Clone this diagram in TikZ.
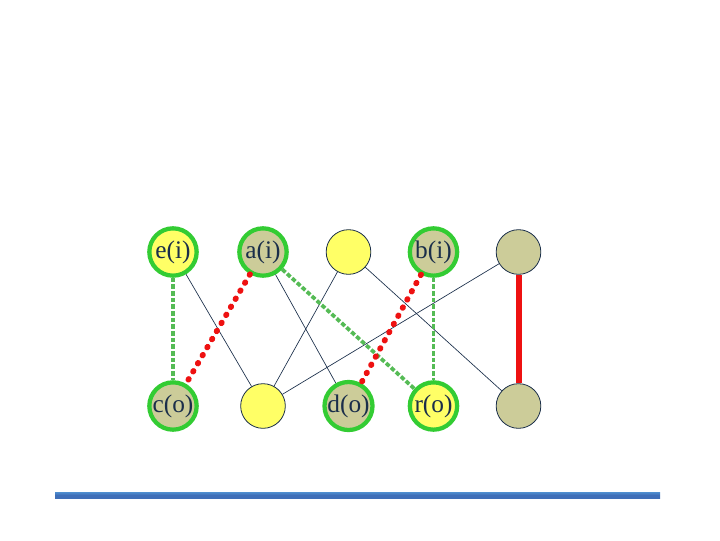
\documentclass[tikz,border=0pt]{standalone}
\usepackage{fontspec}
\setmainfont{Liberation Serif}
\definecolor{yel}{HTML}{FFFF66}
\definecolor{kha}{HTML}{CCCC99}
\definecolor{ring}{HTML}{33CC33}
\definecolor{txt}{HTML}{1A2E4A}
\definecolor{edge}{HTML}{1A2E4A}
\definecolor{redl}{HTML}{EE1111}
\definecolor{grnl}{HTML}{55BB55}
\definecolor{barA}{HTML}{3F6FB8}
\definecolor{barB}{HTML}{4F8FD0}
\begin{document}
\begin{tikzpicture}[x=0.75pt,y=-0.75pt,
  vert/.style={circle,draw=edge,line width=0.6pt,minimum size=33.5pt,inner sep=0pt,
    text=txt,font=\fontsize{19}{19}\selectfont},
  ringed/.style={vert,draw=ring,line width=3.2pt,minimum size=35.5pt},
  thin/.style={draw=edge,line width=0.5pt},
  reddot/.style={draw=redl,line width=4.4pt,line cap=round,dash pattern=on 0.5pt off 6.5pt},
  grndot/.style={draw=grnl,line width=2.8pt,dash pattern=on 3.4pt off 1.6pt},
  redsolid/.style={draw=redl,line width=4.5pt}]
\useasboundingbox (0,0) rectangle (720,540);
\coordinate (T1) at (173,252); \coordinate (T2) at (263,252); \coordinate (T3) at (348.5,252);
\coordinate (T4) at (433.5,252); \coordinate (T5) at (518.5,252);
\coordinate (B1) at (173,406); \coordinate (B2) at (263,406); \coordinate (B3) at (348.5,406);
\coordinate (B4) at (433.5,406); \coordinate (B5) at (518.5,406);
% nodes
\node[ringed,fill=yel] (ei) at (T1) {e(i)};
\node[ringed,fill=kha] (ai) at (T2) {a(i)};
\node[vert,fill=yel] (y1) at (T3) {};
\node[ringed,fill=kha] (bi) at (T4) {b(i)};
\node[vert,fill=kha] (k1) at (T5) {};
\node[ringed,fill=kha] (co) at (B1) {c(o)};
\node[vert,fill=yel] (y2) at (B2) {};
\node[ringed,fill=kha] (do) at (B3) {d(o)};
\node[ringed,fill=yel] (ro) at (B4) {r(o)};
\node[vert,fill=kha] (k2) at (B5) {};
% edges
\path[thin] (ei) -- (y2);
\path[thin] (ai) -- (do);
\path[thin] (y1) -- (y2);
\path[thin] (y1) -- (k2);
\path[thin] (k1) -- (y2);
\path[grndot] (ei) -- (co);
\path[grndot] (ai) -- (ro);
\path[grndot] (bi) -- (ro);
\path[reddot] (ai) -- (co);
\path[reddot] (bi) -- (do);
\path[redsolid] (k1) -- (k2);
% bottom bar
\shade[top color=barB,bottom color=barA,middle color=barA] (55,492) rectangle (660,498);
\end{tikzpicture}
\end{document}
